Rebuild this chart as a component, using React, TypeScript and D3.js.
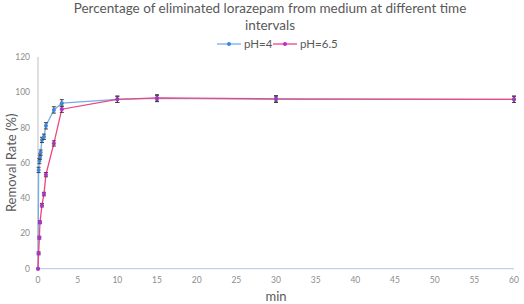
import React, { useEffect, useRef } from 'react';
import * as d3 from 'd3';

// time points (min)
const timesPH4 = [0, 0.08, 0.17, 0.25, 0.33, 0.5, 0.75, 1, 2, 3, 10, 15, 30, 60];
const valuesPH4 = [0, 56, 61, 63.5, 65.8, 73, 74.8, 81, 90, 93.8, 96, 96.5, 96, 96];
const errPH4 = [0, 1.5, 1.5, 1.5, 1.5, 1.5, 1.5, 1.8, 1.8, 2, 1.8, 1.8, 1.8, 1.8];

const timesPH65 = [0, 0.08, 0.17, 0.25, 0.5, 0.75, 1, 2, 3, 10, 15, 30, 60];
const valuesPH65 = [0, 8.7, 17.6, 26.3, 36, 42.3, 53.3, 71, 90.4, 96, 96.8, 96.3, 96];
const errPH65 = [0, 0.8, 0.8, 0.8, 1, 1, 1.2, 1.5, 1.8, 1.8, 1.8, 1.8, 1.8];

const xTicks = d3.range(0, 61, 5);
const yTicks = [0, 20, 40, 60, 80, 100, 120];

const SERIES = [
  { name: 'pH=4', times: timesPH4, values: valuesPH4, err: errPH4, line: '#74aee8', dot: '#3d86de' },
  { name: 'pH=6.5', times: timesPH65, values: valuesPH65, err: errPH65, line: '#f0447e', dot: '#b42ec8' },
];

const App = () => {
  const ref = useRef<SVGSVGElement>(null);

  useEffect(() => {
    const svg = d3.select(ref.current);
    svg.selectAll('*').remove();

    const x = d3.scaleLinear().domain([0, 60]).range([38, 514]);
    const y = d3.scaleLinear().domain([0, 120]).range([268.7, 57]);
    const font = 'Lato, "Open Sans", sans-serif';

    // title
    const title = svg.append('text')
      .attr('text-anchor', 'middle')
      .attr('fill', '#595959')
      .style('font-family', font)
      .style('font-size', '13.5px');
    title.append('tspan').attr('x', 270).attr('y', 13).text('Percentage of eliminated lorazepam from medium at different time');
    title.append('tspan').attr('x', 270).attr('y', 30).text('intervals');

    // legend
    const legendX = [217, 273];
    SERIES.forEach((s, i) => {
      const lg = svg.append('g').attr('transform', `translate(${legendX[i]},44)`);
      lg.append('line').attr('x1', 0).attr('x2', 24).attr('stroke', s.line).attr('stroke-width', 1.3);
      lg.append('circle').attr('cx', 12).attr('r', 2).attr('fill', s.dot);
      lg.append('text').attr('x', 27).attr('y', 4)
        .attr('fill', '#595959')
        .style('font-family', font).style('font-size', '11.5px')
        .text(s.name);
    });

    // axes
    svg.append('line').attr('x1', x(0)).attr('x2', x(60)).attr('y1', y(0)).attr('y2', y(0))
      .attr('stroke', '#b4c7e7').attr('stroke-width', 1);
    svg.append('line').attr('x1', x(0)).attr('x2', x(0)).attr('y1', y(0)).attr('y2', y(120))
      .attr('stroke', '#bfbfbf').attr('stroke-width', 1);

    svg.append('g').selectAll('text').data(xTicks).enter().append('text')
      .attr('x', d => x(d)).attr('y', 283)
      .attr('text-anchor', 'middle').attr('fill', '#8c8c8c')
      .style('font-family', font).style('font-size', '8.5px')
      .text(d => d);

    svg.append('g').selectAll('text').data(yTicks).enter().append('text')
      .attr('x', 30).attr('y', d => y(d) + 3)
      .attr('text-anchor', 'end').attr('fill', '#8c8c8c')
      .style('font-family', font).style('font-size', '8.5px')
      .text(d => d);

    svg.append('text')
      .attr('x', x(30)).attr('y', 301)
      .attr('text-anchor', 'middle').attr('fill', '#595959')
      .style('font-family', font).style('font-size', '13px')
      .text('min');

    svg.append('text')
      .attr('transform', `translate(16,${y(60)}) rotate(-90)`)
      .attr('text-anchor', 'middle').attr('fill', '#595959')
      .style('font-family', font).style('font-size', '13px')
      .text('Removal Rate (%)');

    // series
    const line = d3.line<[number, number]>().x(d => x(d[0])).y(d => y(d[1]));

    SERIES.forEach(s => {
      const pts: [number, number][] = s.times.map((t, i) => [t, s.values[i]]);
      svg.append('path').datum(pts)
        .attr('d', line)
        .attr('fill', 'none')
        .attr('stroke', s.line)
        .attr('stroke-width', 1.3);
    });

    SERIES.forEach(s => {
      const g = svg.append('g');
      s.times.forEach((t, i) => {
        const cx = x(t);
        const e = s.err[i];
        if (e > 0) {
          const y1 = y(s.values[i] + e);
          const y2 = y(s.values[i] - e);
          g.append('line').attr('x1', cx).attr('x2', cx).attr('y1', y1).attr('y2', y2)
            .attr('stroke', '#404040').attr('stroke-width', 1);
          [y1, y2].forEach(yy => g.append('line')
            .attr('x1', cx - 2).attr('x2', cx + 2).attr('y1', yy).attr('y2', yy)
            .attr('stroke', '#404040').attr('stroke-width', 1));
        }
        g.append('circle').attr('cx', cx).attr('cy', y(s.values[i])).attr('r', 2).attr('fill', s.dot);
      });
    });
  }, []);

  return (
    <svg ref={ref} width={524} height={304}
      style={{ position: 'absolute', left: 0, top: 0, background: '#fff' }} />
  );
};

export default App;
